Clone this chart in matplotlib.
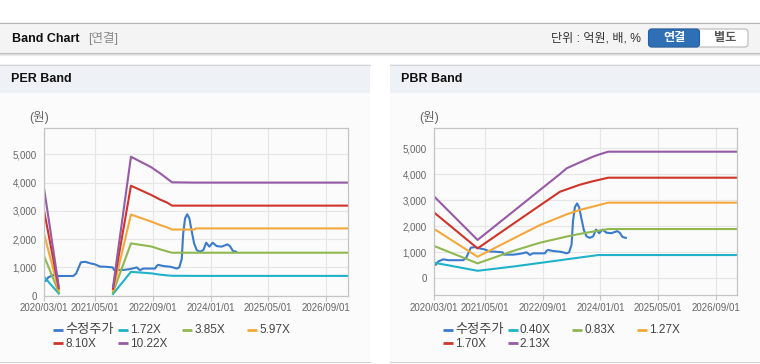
import numpy as np
import pandas as pd
import matplotlib
matplotlib.use("Agg")
import matplotlib.pyplot as plt
import matplotlib.dates as mdates
from matplotlib.patches import Rectangle, FancyBboxPatch
from matplotlib.ticker import FuncFormatter, FixedLocator

plt.rcParams['font.family'] = ['Liberation Sans', 'Noto Sans CJK KR']

# ---------------- data ----------------
price_dates = ['2020-03-01', '2020-03-13', '2020-04-04', '2020-05-16', '2020-06-28', '2020-11-01',
               '2020-11-25', '2021-01-03', '2021-02-09', '2021-03-23', '2021-05-01', '2021-06-13',
               '2021-07-25', '2021-09-28', '2021-10-10', '2021-12-28', '2022-02-09', '2022-03-23',
               '2022-04-19', '2022-05-16', '2022-06-12', '2022-08-08', '2022-09-20', '2022-10-05',
               '2022-10-17', '2022-11-29', '2023-01-23', '2023-02-19', '2023-03-21', '2023-04-12',
               '2023-05-03', '2023-05-15', '2023-05-31', '2023-06-18', '2023-07-06', '2023-07-24',
               '2023-08-15', '2023-09-06', '2023-10-03', '2023-11-01', '2023-11-25', '2023-12-22',
               '2024-01-19', '2024-02-21', '2024-04-03', '2024-05-22', '2024-06-12', '2024-07-06',
               '2024-08-03']
price_values = [540, 520, 650, 730, 697, 697,
                790, 1180, 1200, 1145, 1110, 1030,
                1025, 1000, 910, 910, 933, 970,
                1000, 900, 960, 960, 960, 1060,
                1090, 1050, 1025, 1000, 960, 1000,
                1300, 2200, 2735, 2880, 2735, 2320,
                1850, 1615, 1555, 1615, 1875, 1735,
                1875, 1755, 1735, 1815, 1755, 1590,
                1555]

per_dates = ['2020-03-01', '2020-07-01', '2021-01-01', '2021-10-01', '2022-03-01', '2022-08-20',
             '2022-11-01', '2022-12-28', '2023-02-10', '2023-08-20', '2023-08-28', '2027-03-01']
per_labels = ['1.72X', '3.85X', '5.97X', '8.10X', '10.22X']
per_172 = [660, 75, np.nan, 60, 845, 790, 745, 720, 705, 700, 700, 700]
per_385 = [1380, 125, np.nan, 115, 1850, 1740, 1640, 1570, 1520, 1520, 1520, 1520]
per_597 = [2150, 190, np.nan, 180, 2870, 2620, 2500, 2420, 2340, 2340, 2380, 2380]
per_810 = [2960, 260, np.nan, 245, 3890, 3560, 3400, 3300, 3185, 3185, 3185, 3185]
per_1022 = [3740, 320, np.nan, 310, 4915, 4540, 4330, 4150, 4010, 4000, 4000, 4000]

pbr_dates = ['2020-03-01', '2021-03-01', '2021-12-28', '2022-08-10', '2023-01-25', '2023-03-22',
             '2023-07-12', '2023-11-01', '2023-12-13', '2024-03-07', '2027-03-01']
pbr_labels = ['0.40X', '0.83X', '1.27X', '1.70X', '2.13X']
pbr_040 = [600, 290, 453, 592, 695, 731, 800, 868, 895, 895, 895]
pbr_083 = [1240, 575, 1056, 1370, 1546, 1606, 1710, 1797, 1830, 1895, 1895]
pbr_127 = [1895, 830, 1530, 2050, 2355, 2460, 2630, 2760, 2810, 2910, 2910]
pbr_170 = [2525, 1150, 2100, 2805, 3330, 3420, 3600, 3736, 3780, 3870, 3870]
pbr_213 = [3140, 1475, 2575, 3400, 4010, 4230, 4460, 4680, 4750, 4870, 4870]

price_label = '수정주가'
x_ticks = ['2020-03-01', '2021-05-01', '2022-09-01', '2024-01-01', '2025-05-01', '2026-09-01']
x_range = ['2020-03-01', '2027-03-01']
y_ticks = [0, 1000, 2000, 3000, 4000, 5000]

colors = ['#3a7bcc', '#1fb2c9', '#8fb850', '#f4a83c', '#cf3429', '#975aa6']

# ---------------- figure ----------------
W, H = 760, 364
fig = plt.figure(figsize=(W / 100, H / 100), dpi=100)
fig.patch.set_facecolor('white')

bg = fig.add_axes([0, 0, 1, 1])
bg.set_xlim(0, W)
bg.set_ylim(H, 0)
bg.axis('off')
bg.set_zorder(-10)

# header bar
bg.add_patch(Rectangle((0, 22), W, 31, fc='#f4f4f4', ec='none'))
bg.plot([0, W], [22.5, 22.5], color='#b4b4b4', lw=0.8)
bg.plot([0, W], [52.5, 52.5], color='#c0c0c0', lw=0.8)
bg.plot([0, W], [53.5, 53.5], color='#d8d8d8', lw=0.8)
bg.plot([0, W], [54.5, 54.5], color='#ebebeb', lw=0.8)
bg.text(12, 38.5, 'Band Chart', fontsize=9, fontweight='bold', color='#111111', va='center', ha='left')
bg.text(88, 38.5, '[연결]', fontsize=9, color='#8a8a8a', va='center', ha='left')
bg.text(641, 38.5, '단위 : 억원, 배, %', fontsize=8.7, color='#333333', va='center', ha='right')
bg.add_patch(FancyBboxPatch((650, 29), 98, 18, boxstyle='round,pad=0,rounding_size=3',
                            fc='white', ec='#b8b8b8', lw=0.8))
bg.add_patch(FancyBboxPatch((648.5, 29), 51, 18, boxstyle='round,pad=0,rounding_size=3',
                            fc='#2f6fb6', ec='#2a5f9e', lw=0.8))
bg.text(674, 38.5, '연결', fontsize=8.7, fontweight='bold', color='white', va='center', ha='center')
bg.text(725, 38.5, '별도', fontsize=8.7, fontweight='bold', color='#555555', va='center', ha='center')

# panels
for px0, px1, title in [(0, 370, 'PER Band'), (390, 760, 'PBR Band')]:
    bg.add_patch(Rectangle((px0, 64), px1 - px0, 298, fc='#fbfbfb', ec='none'))
    bg.add_patch(Rectangle((px0, 64), px1 - px0, 29, fc='#eef1f6', ec='none'))
    bg.plot([px0, px1], [64.5, 64.5], color='#d8d8d8', lw=0.8)
    bg.plot([px0, px1], [361.5, 361.5], color='#d2d2d2', lw=0.8)
    bg.text(px0 + 11, 79.5, title, fontsize=9, fontweight='bold', color='#111111', va='center', ha='left')
    bg.text(px0 + 29, 117, '(원)', fontsize=9, color='#666666', va='center', ha='left')


def setup_axes(rect, ylim):
    ax = fig.add_axes(rect)
    ax.set_facecolor('none')
    ax.set_xlim(pd.to_datetime(x_range[0]), pd.to_datetime(x_range[1]))
    ax.set_ylim(*ylim)
    ax.xaxis.set_major_locator(FixedLocator(mdates.date2num(pd.to_datetime(x_ticks))))
    ax.xaxis.set_major_formatter(mdates.DateFormatter('%Y/%m/%d'))
    ax.yaxis.set_major_locator(FixedLocator(y_ticks))
    ax.yaxis.set_major_formatter(FuncFormatter(lambda v, p: f'{v:,.0f}'))
    ax.grid(True, color='#e6e6e6', lw=0.8)
    ax.set_axisbelow(True)
    for s in ax.spines.values():
        s.set_color('#c4c4c4')
        s.set_linewidth(0.9)
    ax.tick_params(axis='x', length=3.5, width=0.8, color='#c4c4c4', labelsize=7, labelcolor='#666666', pad=2)
    ax.tick_params(axis='y', length=0, labelsize=7, labelcolor='#666666', pad=5.5)
    return ax


ax1 = setup_axes([44.3 / W, (H - 295.7) / H, 303.4 / W, 167.4 / H], (0, 5920))
ax1.plot(pd.to_datetime(price_dates), price_values, color=colors[0], lw=1.5)
for vals, c in zip([per_172, per_385, per_597, per_810, per_1022], colors[1:]):
    ax1.plot(pd.to_datetime(per_dates), vals, color=c, lw=1.5)

ax2 = setup_axes([434.3 / W, (H - 295.0) / H, 303.0 / W, 166.7 / H], (-642, 5770))
ax2.plot(pd.to_datetime(price_dates), price_values, color=colors[0], lw=1.5)
for vals, c in zip([pbr_040, pbr_083, pbr_127, pbr_170, pbr_213], colors[1:]):
    ax2.plot(pd.to_datetime(pbr_dates), vals, color=c, lw=1.5)


# legends (pixel layout)
def draw_legend(x0, labels):
    items = [price_label] + labels
    col_x = [x0 + 64.7 * i for i in range(4)]
    for i, (lab, c) in enumerate(zip(items, colors)):
        row, col = divmod(i, 4)
        lx = col_x[col]
        ly = 330 + row * 13.3
        bg.plot([lx, lx + 10], [ly, ly], color=c, lw=2, solid_capstyle='butt')
        fs = 9.5 if i == 0 else 8.5
        bg.text(lx + 12, ly + 0.3, lab, fontsize=fs, color='#444444', va='center', ha='left')


draw_legend(53, per_labels)
draw_legend(443, pbr_labels)

fig.savefig('out.png', dpi=100, facecolor='white')
